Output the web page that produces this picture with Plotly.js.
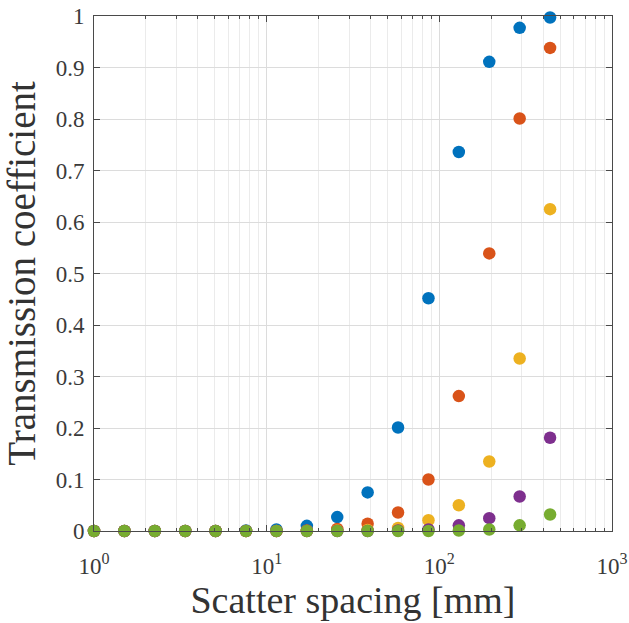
<!DOCTYPE html>
<html><head><meta charset="utf-8">
<script src="https://cdn.plot.ly/plotly-3.0.1.min.js"></script>
<style>body{margin:0;background:#fff}#c{width:629px;height:623px}</style>
</head><body><div id="c"></div>
<script>
const spacing = [1, 1.5, 2.25, 3.375, 5.06, 7.59, 11.39, 17.09, 25.63, 38.44, 57.67, 86.5, 129.7, 194.6, 291.9, 437.9];
const seriesA = [0, 0, 0, 0, 0, 0.001, 0.003, 0.010, 0.027, 0.075, 0.201, 0.452, 0.736, 0.911, 0.977, 0.997];
const seriesB = [0, 0, 0, 0, 0, 0, 0, 0.001, 0.004, 0.014, 0.036, 0.100, 0.262, 0.539, 0.801, 0.938];
const seriesC = [0, 0, 0, 0, 0, 0, 0, 0, 0.001, 0.002, 0.006, 0.021, 0.050, 0.135, 0.335, 0.625];
const seriesD = [0, 0, 0, 0, 0, 0, 0, 0, 0, 0, 0.001, 0.003, 0.011, 0.025, 0.067, 0.181];
const seriesE = [0, 0, 0, 0, 0, 0, 0, 0, 0, 0, 0, 0, 0.001, 0.003, 0.011, 0.032];
const colors = ['#0072BD', '#D95319', '#EDB120', '#7E2F8E', '#77AC30'];
const xTickVals = [1, 10, 100, 1000];
const xTickText = ['10<sup>0</sup>', '10<sup>1</sup>', '10<sup>2</sup>', '10<sup>3</sup>'];

// minor log ticks 2..9 in each decade (axis configuration)
const minorVals = [];
for (let d = 1; d <= 100; d *= 10) for (let m = 2; m <= 9; m++) minorVals.push(m * d);

const all = [seriesA, seriesB, seriesC, seriesD, seriesE];
const traces = all.map((s, i) => ({
  x: spacing, y: s, type: 'scatter', mode: 'markers',
  marker: {color: colors[i], size: 12.5, line: {width: 0}},
  showlegend: false, cliponaxis: false
}));

const axisColor = '#4a4a4a';
const serif = 'Liberation Serif';
const layout = {
  width: 629, height: 623,
  margin: {l: 94, r: 17, t: 16, b: 92},
  paper_bgcolor: '#fff', plot_bgcolor: '#fff',
  font: {family: serif, color: '#333333', size: 23},
  xaxis: {
    type: 'log', range: [0, 3],
    tickmode: 'array', tickvals: xTickVals, ticktext: xTickText,
    ticks: 'inside', ticklen: 6, tickcolor: axisColor,
    showline: true, linecolor: axisColor, linewidth: 1, mirror: 'ticks',
    showgrid: true, gridcolor: '#dcdcdc', gridwidth: 1,
    minor: {tickmode: 'array', tickvals: minorVals, ticks: 'inside', ticklen: 3, tickcolor: axisColor,
            showgrid: true, gridcolor: '#ebebeb', gridwidth: 1},
    zeroline: false, automargin: false,
    ticklabelstandoff: 14,
    tickfont: {family: serif, size: 23, color: '#3a3a3a'},
    title: {text: 'Scatter spacing [mm]', font: {family: serif, size: 38, color: '#333333'}, standoff: 3}
  },
  yaxis: {
    range: [0, 1], dtick: 0.1, tick0: 0,
    ticks: 'inside', ticklen: 6, tickcolor: axisColor,
    showline: true, linecolor: axisColor, linewidth: 1, mirror: 'ticks',
    showgrid: true, gridcolor: '#dcdcdc', gridwidth: 1,
    zeroline: false, automargin: false,
    ticklabelstandoff: 4,
    tickfont: {family: serif, size: 23, color: '#3a3a3a'},
    title: {text: 'Transmission coefficient', font: {family: serif, size: 39, color: '#333333'}, standoff: 8}
  }
};
Plotly.newPlot('c', traces, layout, {displayModeBar: false, staticPlot: true});
</script></body></html>
